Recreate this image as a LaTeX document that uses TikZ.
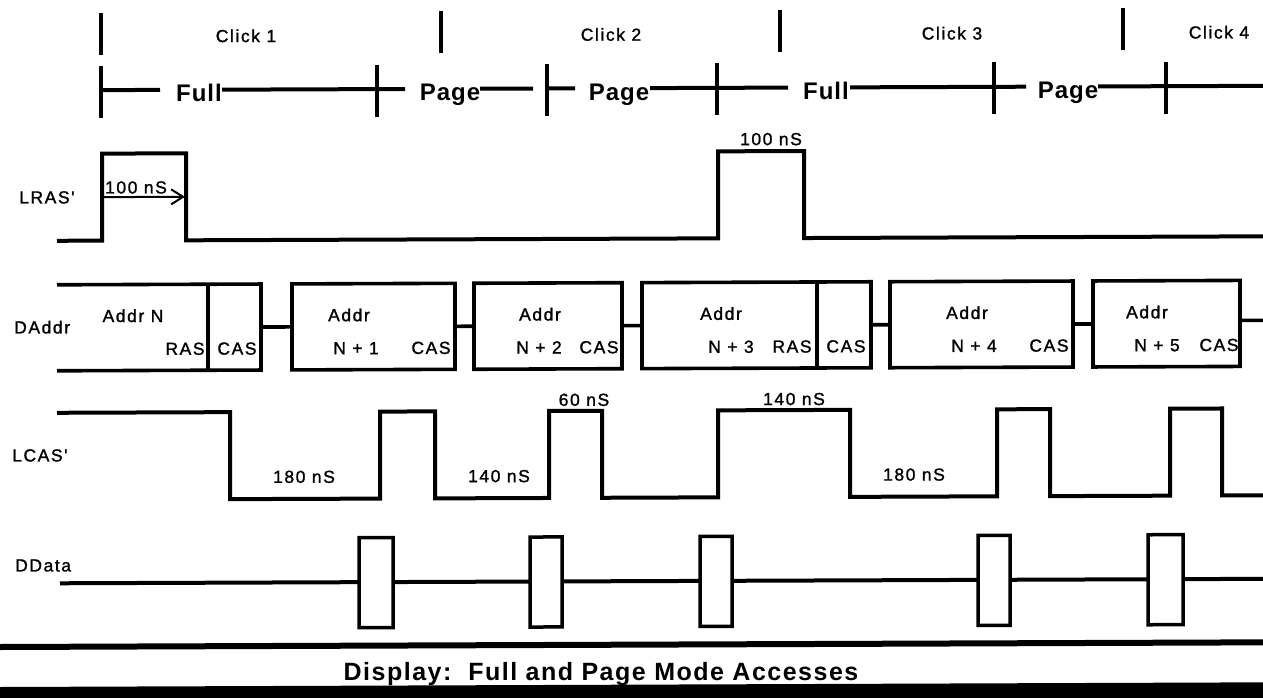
\documentclass[tikz,border=0pt]{standalone}
\usepackage{fontspec}
\setmainfont{Liberation Sans}
\newfontfamily\sigf[LetterSpace=9,FakeBold=1.3]{Liberation Sans}
\newfontfamily\bigf[LetterSpace=4]{Liberation Sans}
\newfontfamily\titf[LetterSpace=6]{Liberation Sans}
\usetikzlibrary{arrows.meta}
\begin{document}
\begin{tikzpicture}[x=1pt,y=-1pt,
  sig/.style={font={\sigf\fontsize{17.5}{20}\selectfont}, inner sep=0pt, anchor=base},
  big/.style={font={\bigf\bfseries\fontsize{24}{28}\selectfont}, inner sep=0pt, anchor=base},
  wave/.style={line width=4pt, line join=miter},
  bus/.style={line width=3.6pt, line join=miter},
  barline/.style={line width=3.6pt},
  brk/.style={line width=4pt},
  dbox/.style={line width=3.5pt}]
\useasboundingbox (0,0) rectangle (1263,698);
\clip (0,0) rectangle (1263,698);
\begin{scope}[yslant=0.0037]
% ---- Click row
\draw[barline] (101,13) -- (101,55);
\draw[barline] (441,13) -- (441,55);
\draw[barline] (780,13) -- (780,55);
\draw[barline] (1123,12) -- (1123,54);
\node[sig] (click1) at (246,43) {Click 1};
\node[sig] (click2) at (611,43) {Click 2};
\node[sig] (click3) at (952,43) {Click 3};
\node[sig] (click4) at (1219,43) {Click 4};
% ---- Full / Page bracket row
\foreach \x in {101,377,547,717,994,1166} \draw[brk] (\x,66) -- (\x,118);
\draw[brk] (101,90.5) -- (160,90.5);
\draw[brk] (222,90.5) -- (405,90.5);
\draw[brk] (480,90.5) -- (533,90.5);
\draw[brk] (547,90.5) -- (575,90.5);
\draw[brk] (650,90.5) -- (788,90.5);
\draw[brk] (850,90.5) -- (1026,90.5);
\draw[brk] (1098,90.5) -- (1263,90.5);
\node[big] (full1) at (199,102.5) {Full};
\node[big] (page1) at (450,102.5) {Page};
\node[big] (page2) at (619,102.5) {Page};
\node[big] (full2) at (826,102.5) {Full};
\node[big] (page3) at (1068,102.5) {Page};
% ---- LRAS'
\node[sig, anchor=base west] (lras) at (19,203.5) {LRAS'};
\draw[wave] (57,241) -- (102,241) -- (102,154) -- (186,154) -- (186,241)
  -- (718,241) -- (718,154) -- (804,154) -- (804,241) -- (1263,241);
\coordinate (arrA) at (102,197.5);
\coordinate (arrB) at (185,197.5);
\draw[line width=2pt, -{Straight Barb[length=12pt,width=15pt,line width=2pt]}] (arrA) -- (arrB);
\node[sig] (t100a) at (136,194) {100 nS};
\node[sig] (t100b) at (771,148) {100 nS};
% ---- DAddr
\node[sig, anchor=base west] (daddr) at (14,333.5) {DAddr};
\draw[bus] (57,285) -- (261,285) -- (261,371) -- (57,371);
\draw[bus] (208,285) -- (208,371);
\draw[bus] (292,285) rectangle (455,371);
\draw[bus] (474,285) rectangle (622,371);
\draw[bus] (642,285) rectangle (871,371);
\draw[bus] (817,285) -- (817,371);
\draw[bus] (890,285) rectangle (1073,371);
\draw[bus] (1093,285) rectangle (1240,371);
\draw[bus] (261,328) -- (292,328);
\draw[bus] (455,328) -- (474,328);
\draw[bus] (622,328) -- (642,328);
\draw[bus] (871,328) -- (890,328);
\draw[bus] (1073,328) -- (1093,328);
\draw[bus] (1240,325) -- (1263,325);
\node[sig] (an) at (133,322.5) {Addr N};
\node[sig] (ras1) at (185,355.5) {RAS};
\node[sig] (cas1) at (237,355.5) {CAS};
\node[sig] (a1) at (349,322.5) {Addr};
\node[sig] (n1) at (356,355.5) {N + 1};
\node[sig] (cas2) at (431,355.5) {CAS};
\node[sig] (a2) at (540,322.5) {Addr};
\node[sig] (n2) at (539,355.5) {N + 2};
\node[sig] (cas3) at (599,355.5) {CAS};
\node[sig] (a3) at (721,322.5) {Addr};
\node[sig] (n3) at (731,355.5) {N + 3};
\node[sig] (ras3) at (792,355.5) {RAS};
\node[sig] (cas4) at (846,355.5) {CAS};
\node[sig] (a4) at (967,322.5) {Addr};
\node[sig] (n4) at (974,355.5) {N + 4};
\node[sig] (cas5) at (1049,355.5) {CAS};
\node[sig] (a5) at (1147,322.5) {Addr};
\node[sig] (n5) at (1157,355.5) {N + 5};
\node[sig] (cas6) at (1219,355.5) {CAS};
% ---- LCAS'
\node[sig, anchor=base west] (lcas) at (12,461.5) {LCAS'};
\draw[wave] (57,413) -- (230,413) -- (230,500) -- (380,500) -- (380,413) -- (435,413)
  -- (435,500) -- (549,500) -- (549,413) -- (602,413) -- (602,500) -- (718,500)
  -- (718,413) -- (850,413) -- (850,500) -- (997,500) -- (997,413) -- (1050,413)
  -- (1050,500) -- (1170,500) -- (1170,413) -- (1222,413) -- (1222,500) -- (1263,500);
\node[sig] (t180a) at (304,484) {180 nS};
\node[sig] (t140a) at (499,484) {140 nS};
\node[sig] (t60) at (584,408) {60 nS};
\node[sig] (t140b) at (794,408) {140 nS};
\node[sig] (t180b) at (914,484) {180 nS};
% ---- DData
\node[sig, anchor=base west] (ddata) at (15,571.5) {DData};
\draw[wave] (60,583.5) -- (359,583.5);
\draw[wave] (393,583.5) -- (530,583.5);
\draw[wave] (562,583.5) -- (700,583.5);
\draw[wave] (732,583.5) -- (978,583.5);
\draw[wave] (1010,583.5) -- (1148,583.5);
\draw[wave] (1183,583.5) -- (1263,583.5);
\draw[dbox] (359,539) rectangle (393,629);
\draw[dbox] (530,539) rectangle (562,629);
\draw[dbox] (700,539) rectangle (732,629);
\draw[dbox] (978,539) rectangle (1010,629);
\draw[dbox] (1148,539) rectangle (1183,629);
% ---- caption
\draw[line width=6pt] (-5,647) -- (1270,647);
\node[font={\titf\bfseries\fontsize{25}{28}\selectfont}, inner sep=0pt, anchor=base] (title) at (601,682.5) {Display:\ \ Full and Page Mode Accesses};
\fill (-5,687) rectangle (1270,720);
\end{scope}
\end{tikzpicture}
\end{document}
